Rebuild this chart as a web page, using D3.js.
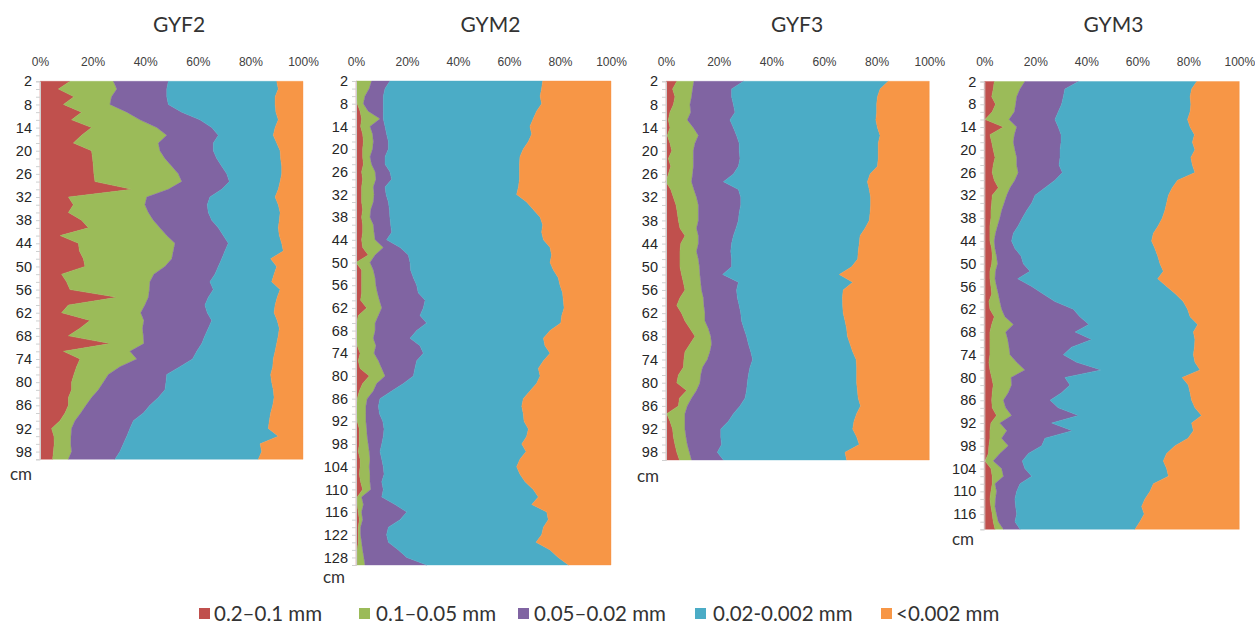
<!DOCTYPE html>
<html>
<head>
<meta charset="utf-8">
<script src="https://cdn.jsdelivr.net/npm/d3@7"></script>
<style>
  html, body { margin: 0; padding: 0; background: #ffffff; }
  svg { display: block; font-family: Lato, "Open Sans", "Liberation Sans", sans-serif; }
</style>
</head>
<body>
<svg id="chart" width="1255" height="624"></svg>
<script>
// ---------- sampling depths (cm) ----------
const depthsTo100 = [2,4,6,8,10,12,14,16,18,20,22,24,26,28,30,32,34,36,38,40,42,44,46,48,50,
  52,54,56,58,60,62,64,66,68,70,72,74,76,78,80,82,84,86,88,90,92,94,96,98,100];
const depthsTo130 = [2,4,6,8,10,12,14,16,18,20,22,24,26,28,30,32,34,36,38,40,42,44,46,48,50,
  52,54,56,58,60,62,64,66,68,70,72,74,76,78,80,82,84,86,88,90,92,94,96,98,100,
  102,104,106,108,110,112,114,116,118,120,122,124,126,128,130];
const depthsTo120 = [2,4,6,8,10,12,14,16,18,20,22,24,26,28,30,32,34,36,38,40,42,44,46,48,50,
  52,54,56,58,60,62,64,66,68,70,72,74,76,78,80,82,84,86,88,90,92,94,96,98,100,
  102,104,106,108,110,112,114,116,118,120];

// ---------- particle-size fractions (%) per profile ----------
// GYF2
const gyf2Sand = [11.4,7.0,12.9,8.9,15.8,12.0,19.6,15.8,12.7,19.6, 20.0,20.3,20.5,20.9,34.9,10.8,12.7,10.8,15.8,18.4,
  7.6,14.6,15.0,16.5,17.1,8.2,10.1,11.4,29.2,10.8, 8.2,19.0,15.2,10.8,26.6,8.9,15.2,13.9,12.9,12.0,
  12.0,10.8,10.8,9.5,7.6,4.4,5.3,5.4,5.1,4.8];
const gyf2VfSand = [16.5,22.2,14.3,17.7,17.2,26.0,24.8,32.4,32.3,26.0, 27.5,29.8,32.1,33.0,13.9,29.8,27.2,30.4,27.3,27.2,
  40.6,36.7,35.7,33.6,30.4,35.1,31.7,30.2,12.0,29.1, 30.1,20.5,23.8,28.5,12.9,25.3,21.6,16.5,13.1,12.1,
  10.2,8.8,6.7,6.0,5.7,7.6,6.5,6.3,6.9,6.0];
const gyf2CoarseSilt = [20.9,19.0,21.0,22.2,20.9,22.8,20.9,19.6,20.9,20.3, 19.7,19.0,18.4,18.1,20.3,24.0,23.7,22.8,22.2,22.2,
  21.5,20.3,19.6,19.0,20.3,23.2,22.8,24.3,22.8,22.8, 25.3,25.8,25.0,23.4,22.0,25.4,21.2,22.8,22.2,23.8,
  25.3,25.4,24.3,23.8,22.2,22.2,21.2,20.0,18.4,17.7];
const gyf2Silt = [41.2,42.4,41.2,40.6,35.8,29.8,24.1,20.9,24.1,25.4, 24.3,22.8,20.9,19.3,21.5,24.8,27.0,27.3,25.7,22.8,
  21.3,20.3,22.2,18.6,22.2,22.5,23.5,25.4,26.2,26.7, 25.4,24.9,27.0,27.9,28.5,29.8,30.7,35.3,39.5,40.2,
  41.2,44.0,46.7,48.4,51.7,52.6,57.6,52.0,53.9,54.5];
const gyf2Clay = [10.0,9.4,10.6,10.6,10.3,9.4,10.6,11.3,10.0,8.7, 8.5,8.1,8.1,8.7,9.4,10.6,9.4,8.7,9.0,9.4,
  9.0,8.1,7.5,12.3,10.0,11.0,11.9,8.7,9.8,10.6, 11.0,9.8,9.0,9.4,10.0,10.6,11.3,11.5,12.3,11.9,
  11.3,11.0,11.5,12.3,12.8,13.2,9.4,16.3,15.7,17.0];

// GYM2
const gym2Sand = [0.3,0.3,0.3,0.5,1.6,2.2,1.8,2.6,2.9,2.6, 2.6,2.9,2.2,2.6,2.2,2.2,2.2,2.6,2.2,2.6,
  2.6,2.2,2.6,4.8,0.0,2.2,2.2,2.2,2.2,1.8, 4.2,0.9,0.3,0.3,0.3,0.5,1.6,0.9,1.6,5.2,
  2.6,1.3,0.5,0.3,0.3,0.5,1.3,1.3,1.3,0.9, 1.6,1.6,1.3,1.8,2.6,0.5,0.5,0.9,1.3,0.9,
  0.9,0.9,0.5,0.5,0.5];
const gym2VfSand = [5.8,4.9,3.2,2.4,3.2,7.2,3.7,3.9,3.9,3.9, 2.9,3.2,5.3,5.2,4.6,4.9,4.6,3.2,3.3,4.2,
  4.5,5.3,8.1,2.7,5.5,4.6,5.3,5.6,6.2,7.4, 5.9,7.9,7.2,7.2,6.5,7.3,5.5,7.9,8.5,6.2,
  5.5,5.5,3.9,3.6,3.6,3.4,2.9,3.1,3.5,4.3, 3.9,3.6,4.2,3.7,3.2,1.7,2.4,1.3,1.3,0.9,
  0.9,1.3,2.1,2.6,3.0];
const gym2CoarseSilt = [7.2,6.2,7.2,7.8,5.9,1.3,5.9,5.5,5.9,6.2, 5.9,5.3,5.8,6.2,4.6,4.7,5.9,7.3,7.8,6.8,
  6.9,4.5,6.6,13.0,15.7,14.6,15.0,16.0,16.0,17.9, 16.3,16.3,20.2,16.3,14.4,17.3,19.3,15.0,13.0,11.1,
  10.5,7.2,5.0,4.9,5.3,6.6,6.8,6.3,5.3,4.2, 4.6,5.5,5.5,4.6,4.9,7.9,12.4,17.7,14.7,10.9,
  10.2,10.5,14.0,16.8,24.2];
const gym2Silt = [59.9,61.4,61.5,62.1,60.1,58.8,56.8,56.9,54.9,52.9, 52.9,52.7,50.8,50.1,52.3,51.2,54.2,56.4,58.9,59.6,
  58.8,61.5,58.8,56.2,54.9,56.0,56.8,56.2,56.6,54.2, 55.2,55.6,52.6,52.3,52.3,49.0,49.7,49.7,48.4,49.7,
  52.2,54.2,56.2,56.2,56.4,55.4,56.6,56.2,54.9,57.3, 54.2,52.3,53.3,56.2,58.8,61.4,53.6,54.9,58.1,60.8,
  60.8,57.9,59.5,59.4,55.6];
const gym2Clay = [26.8,27.2,27.8,27.2,29.2,30.5,31.8,31.1,32.4,34.4, 35.7,35.9,35.9,35.9,36.3,37.0,33.1,30.5,27.8,26.8,
  27.2,26.5,23.9,23.3,23.9,22.6,20.7,20.0,19.0,18.7, 18.4,19.3,19.7,23.9,26.5,25.9,23.9,26.5,28.5,27.8,
  29.2,31.8,34.4,35.0,34.4,34.1,32.4,33.1,35.0,33.3, 35.7,37.0,35.7,33.7,30.5,28.5,31.1,25.2,24.6,26.5,
  27.2,29.4,23.9,20.7,16.7];

// GYF3
const gyf3Sand = [4.1,2.5,3.4,2.8,1.5,0.9,1.5,0.5,1.5,2.2, 0.9,1.8,0.9,0.0,1.8,2.8,3.8,4.3,4.7,5.3,
  7.2,5.6,5.3,5.3,5.3,5.9,6.6,7.2,5.3,4.1, 5.9,7.2,9.1,11.0,9.1,7.2,6.8,6.6,4.7,4.1,
  7.8,5.1,4.7,0.3,1.5,2.5,2.8,3.4,4.1,5.1];
const gyf3VfSand = [6.5,7.6,6.3,6.3,7.9,7.2,8.9,11.8,9.5,8.2, 9.5,8.6,9.2,9.7,8.8,8.8,8.5,8.0,7.6,6.3,
  5.1,6.7,6.3,7.0,7.4,7.0,6.6,6.3,8.9,10.3, 8.9,7.6,7.0,6.0,8.2,9.5,8.9,7.3,8.5,8.8,
  3.8,4.6,3.4,6.9,5.7,4.7,4.8,4.7,4.8,4.6];
const gyf3CoarseSilt = [18.8,14.8,15.2,16.5,16.8,16.2,15.2,14.5,16.8,17.4, 17.7,17.1,15.5,12.1,16.9,16.8,16.1,15.5,15.2,15.0,
  13.3,12.6,13.0,12.6,12.2,8.6,14.3,13.3,12.9,13.4, 13.6,13.9,13.5,13.6,14.0,15.5,17.2,18.0,18.1,18.0,
  19.0,20.3,20.0,18.4,16.5,13.6,13.2,13.0,10.6,12.1];
const gyf3Silt = [55.0,56.4,55.4,54.4,53.8,55.4,54.7,54.5,52.8,52.8, 52.5,52.8,51.9,54.7,49.7,49.3,49.3,49.7,49.7,49.0,
  48.1,48.5,48.4,47.9,45.6,44.3,43.4,40.5,39.9,39.3, 38.9,39.3,39.0,38.3,38.6,38.7,39.3,40.5,41.1,41.5,
  42.1,43.0,45.8,46.8,47.7,50.1,51.6,52.3,48.5,46.8];
const gyf3Clay = [15.6,18.7,19.7,20.0,20.0,20.3,19.7,18.7,19.4,19.4, 19.4,19.7,22.5,23.5,22.8,22.3,22.3,22.5,22.8,24.4,
  26.3,26.6,27.0,27.2,29.5,34.2,29.1,32.7,33.0,32.9, 32.7,32.0,31.4,31.1,30.1,29.1,27.8,27.6,27.6,27.6,
  27.3,27.0,26.1,27.6,28.6,29.1,27.6,26.6,32.0,31.4];

// GYM3
const gym3Sand = [3.9,3.5,2.9,4.4,3.1,0.3,7.5,2.2,2.9,3.5, 4.2,3.5,3.1,3.9,5.5,3.1,2.9,2.6,2.6,2.2,
  2.2,2.2,2.9,3.1,2.9,2.2,2.2,2.6,2.9,1.8, 2.2,3.9,2.9,2.2,2.2,2.2,2.2,1.8,2.2,2.9,
  3.5,3.1,2.9,3.1,4.8,2.6,2.2,2.2,1.8,1.6, 0.3,2.6,3.1,3.1,2.6,2.2,2.6,3.1,3.5,4.2];
const gym3VfSand = [12.0,10.5,9.8,7.9,8.7,9.4,5.2,9.6,8.5,8.5, 8.5,9.2,10.2,8.1,4.6,5.7,4.9,4.2,3.5,3.0,
  2.2,1.7,1.3,1.7,2.3,2.2,2.0,2.2,2.6,4.3, 4.6,4.2,8.5,6.2,7.0,7.5,7.9,10.9,13.7,7.6,
  7.2,6.3,4.6,5.3,5.9,3.5,6.6,4.6,7.6,4.5, 3.2,4.2,4.4,1.1,2.2,2.2,1.6,1.7,2.0,3.3];
const gym3CoarseSilt = [21.0,17.6,18.3,18.0,17.2,18.0,16.3,18.3,18.7,17.7, 17.0,16.6,17.3,15.7,13.7,11.1,10.8,9.8,8.8,8.1,
  7.0,6.8,7.8,9.6,10.1,13.5,8.9,13.8,17.6,21.6, 28.1,29.4,29.6,27.2,32.9,24.5,20.9,23.5,29.9,21.1,
  22.9,20.9,18.3,20.6,26.2,20.3,25.7,17.0,13.1,11.2, 11.4,9.1,11.1,9.8,7.9,7.6,8.1,7.9,6.5,6.5];
const gym3Silt = [46.4,49.7,49.7,50.7,51.7,52.0,51.7,52.3,51.5,52.9, 51.3,52.3,52.0,48.1,49.9,52.3,52.9,54.2,54.9,54.9,
  54.9,54.9,54.9,53.6,53.6,52.3,54.9,52.9,51.9,50.3, 44.8,43.2,42.7,46.4,40.5,48.2,51.0,46.4,38.8,46.0,
  46.4,50.4,55.5,53.6,48.3,54.9,47.5,56.1,52.3,54.2, 55.3,55.6,53.6,52.3,52.3,51.0,49.4,50.0,49.0,45.1];
const gym3Clay = [16.7,18.7,19.3,19.0,19.3,20.3,19.3,17.6,18.4,17.4, 19.0,18.4,17.4,24.2,26.3,27.8,28.5,29.2,30.2,31.8,
  33.7,34.4,33.1,32.0,31.1,29.8,32.0,28.5,25.0,22.0, 20.3,19.3,16.3,18.0,17.4,17.6,18.0,17.4,15.4,22.4,
  20.0,19.3,18.7,17.4,14.8,18.7,18.0,20.1,25.2,28.5, 29.8,28.5,27.8,33.7,35.0,37.0,38.3,37.3,39.0,40.9];

// ---------- labels ----------
const profileNames = ["GYF2", "GYM2", "GYF3", "GYM3"];
const fractionNames = ["0.2–0.1 mm", "0.1–0.05 mm", "0.05–0.02 mm", "0.02-0.002 mm", "<0.002 mm"];
const percentTicks = [0, 0.2, 0.4, 0.6, 0.8, 1];
const depthUnit = "cm";

const profileData = [
  { depths: depthsTo100, series: [gyf2Sand, gyf2VfSand, gyf2CoarseSilt, gyf2Silt, gyf2Clay] },
  { depths: depthsTo130, series: [gym2Sand, gym2VfSand, gym2CoarseSilt, gym2Silt, gym2Clay] },
  { depths: depthsTo100, series: [gyf3Sand, gyf3VfSand, gyf3CoarseSilt, gyf3Silt, gyf3Clay] },
  { depths: depthsTo120, series: [gym3Sand, gym3VfSand, gym3CoarseSilt, gym3Silt, gym3Clay] }
];

// ---------- styling & layout ----------
const fractionColors = ["#C0504D", "#9BBB59", "#8064A2", "#4BACC6", "#F79646"];
const panelLayout = [
  { left: 40,    right: 303,    top: 81.3, bottom: 459.3, titleX: 179,   unitX: 10,  unitY: 480 },
  { left: 356,   right: 611,    top: 81,   bottom: 565,   titleX: 490.5, unitX: 323, unitY: 583 },
  { left: 666,   right: 929.3,  top: 81.3, bottom: 460,   titleX: 797,   unitX: 637, unitY: 482 },
  { left: 984.3, right: 1239.3, top: 81.5, bottom: 529.3, titleX: 1113.5, unitX: 952, unitY: 545 }
];
const legendLayout = [
  { sq: 199, tx: 214 }, { sq: 359, tx: 376 }, { sq: 518, tx: 534 },
  { sq: 695, tx: 713 }, { sq: 881, tx: 896 }
];

const svg = d3.select("#chart");
const keys = d3.range(fractionNames.length);

profileData.forEach((prof, p) => {
  const L = panelLayout[p];
  const g = svg.append("g").attr("class", "profile");

  const rows = prof.depths.map((depth, i) => {
    const r = { depth };
    keys.forEach(k => { r[k] = prof.series[k][i]; });
    return r;
  });

  const stacked = d3.stack().keys(keys).offset(d3.stackOffsetExpand)(rows);

  const x = d3.scaleLinear().domain([0, 1]).range([L.left, L.right]);
  const y = d3.scaleLinear()
    .domain([prof.depths[0], prof.depths[prof.depths.length - 1]])
    .range([L.top, L.bottom]);

  const area = d3.area()
    .y(d => y(d.data.depth))
    .x0(d => x(d[0]))
    .x1(d => x(d[1]));

  g.selectAll("path.layer")
    .data(stacked)
    .join("path")
    .attr("class", "layer")
    .attr("fill", (d, i) => fractionColors[i])
    .attr("stroke", (d, i) => fractionColors[i])
    .attr("stroke-width", 0.4)
    .attr("d", area);

  // title
  g.append("text")
    .attr("x", L.titleX)
    .attr("y", 32)
    .attr("text-anchor", "middle")
    .attr("font-size", 21)
    .attr("fill", "#333333")
    .text(profileNames[p]);

  // percentage axis along the top
  const xAxis = g.append("g")
    .attr("transform", `translate(0,66)`)
    .call(d3.axisTop(x).tickValues(percentTicks).tickFormat(d3.format(".0%")).tickSize(0).tickPadding(0));
  xAxis.select(".domain").remove();
  xAxis.selectAll("text").attr("font-size", 12).attr("fill", "#404040").attr("font-family", null);

  // depth axis: minor ticks at every sample, labels every 6 cm
  const minor = g.append("g")
    .attr("transform", `translate(${L.left},0)`)
    .call(d3.axisLeft(y).tickValues(prof.depths).tickSize(4).tickFormat(""));
  minor.select(".domain").attr("stroke", "#cfcfcf");
  minor.selectAll(".tick line").attr("stroke", "#d0d0d0");

  const labelDepths = prof.depths.filter(d => (d - prof.depths[0]) % 6 === 0);
  const yAxis = g.append("g")
    .attr("transform", `translate(${L.left},0)`)
    .call(d3.axisLeft(y).tickValues(labelDepths).tickSize(0).tickPadding(8));
  yAxis.select(".domain").remove();
  yAxis.selectAll("text").attr("font-size", 14.5).attr("fill", "#262626").attr("font-family", null);

  // unit label
  g.append("text")
    .attr("x", L.unitX)
    .attr("y", L.unitY)
    .attr("font-size", 17)
    .attr("fill", "#333333")
    .text(depthUnit);
});

// legend
const legend = svg.append("g").attr("class", "legend");
fractionNames.forEach((name, i) => {
  const it = legendLayout[i];
  legend.append("rect")
    .attr("x", it.sq).attr("y", 608)
    .attr("width", 11).attr("height", 11)
    .attr("fill", fractionColors[i]);
  legend.append("text")
    .attr("x", it.tx).attr("y", 621)
    .attr("font-size", 20.5)
    .attr("fill", "#333333")
    .text(name);
});
</script>
</body>
</html>
